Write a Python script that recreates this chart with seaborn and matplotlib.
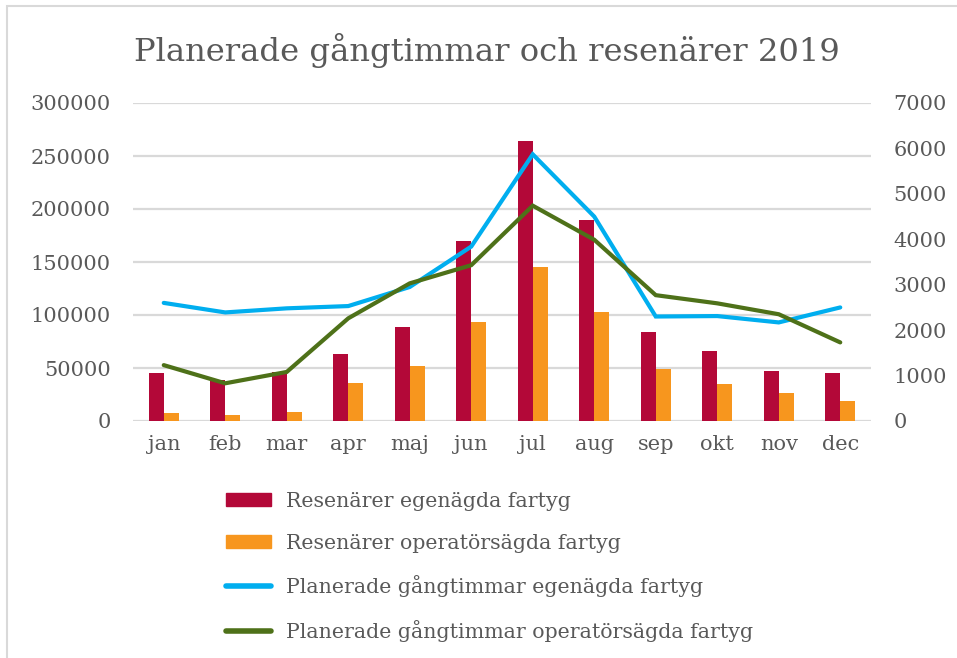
import numpy as np
import pandas as pd
import seaborn as sns
from matplotlib import pyplot as plt
from matplotlib.patches import Rectangle

months = ["jan", "feb", "mar", "apr", "maj", "jun", "jul", "aug", "sep", "okt", "nov", "dec"]
resenarer_egen = [45000, 39000, 46000, 63000, 88500, 170000, 264000, 189500, 84000, 66500, 47500, 45500]
resenarer_operator = [8000, 5500, 8500, 35500, 52000, 93500, 145500, 102500, 49000, 35000, 26500, 18500]
timmar_egen = [2600, 2390, 2480, 2530, 2950, 3840, 5870, 4500, 2300, 2310, 2170, 2500]
timmar_operator = [1230, 830, 1080, 2260, 3030, 3430, 4740, 3990, 2770, 2590, 2350, 1730]

labels = ["Resenärer egenägda fartyg", "Resenärer operatörsägda fartyg",
          "Planerade gångtimmar egenägda fartyg", "Planerade gångtimmar operatörsägda fartyg"]
colors = ["#B30838", "#F7961E", "#00AEEF", "#4E7119"]
text_color = "#595959"
grid_color = "#D9D9D9"


def build_bars():
    df = pd.DataFrame({
        "month": months * 2,
        "resenarer": resenarer_egen + resenarer_operator,
        "serie": [labels[0]] * 12 + [labels[1]] * 12,
    })
    return df


def build_lines():
    df = pd.DataFrame({
        "pos": list(range(len(months))) * 2,
        "timmar": timmar_egen + timmar_operator,
        "serie": [labels[2]] * 12 + [labels[3]] * 12,
    })
    return df


def plot_chart(file_name):
    plt.rcParams["font.family"] = ["DejaVu Serif"]
    fig = plt.figure(figsize=(9.57, 6.58), dpi=100)
    ax = fig.add_axes([133 / 957, 1 - 421 / 658, (871 - 133) / 957, (421 - 103) / 658])

    sns.barplot(data=build_bars(), x="month", y="resenarer", hue="serie", order=months,
                palette=colors[:2], width=0.48, ax=ax, legend=False, saturation=1)
    ax.set_ylim(0, 300000)
    ax.set_xlim(-0.5, 11.5)
    ax.set_yticks(np.arange(0, 300001, 50000))
    ax.yaxis.grid(True, color=grid_color, linewidth=1.6)
    ax.set_axisbelow(True)
    ax.set_xlabel("")
    ax.set_ylabel("")
    for s in ax.spines.values():
        s.set_visible(False)
    ax.tick_params(axis="y", length=0, pad=16, labelsize=15, labelcolor=text_color)
    ax.tick_params(axis="x", length=0, pad=10, labelsize=15, labelcolor=text_color)

    ax2 = ax.twinx()
    sns.lineplot(data=build_lines(), x="pos", y="timmar", hue="serie", palette=colors[2:],
                 linewidth=3, ax=ax2, legend=False)
    for line in ax2.lines:
        line.set_solid_capstyle("round")
        line.set_solid_joinstyle("miter")
    ax2.set_ylim(0, 7000)
    ax2.set_xlim(-0.5, 11.5)
    ax2.set_yticks(np.arange(0, 7001, 1000))
    ax2.set_ylabel("")
    for s in ax2.spines.values():
        s.set_visible(False)
    ax2.tick_params(axis="y", length=0, pad=16, labelsize=15, labelcolor=text_color)

    fig.suptitle("Planerade gångtimmar och resenärer 2019", x=487 / 957, y=1 - 50 / 658,
                 va="center", fontsize=23.2, color=text_color)

    handles = [Rectangle((0, 0), 1, 1, color=colors[0]), Rectangle((0, 0), 1, 1, color=colors[1]),
               plt.Line2D([], [], color=colors[2], lw=4, solid_capstyle="round"),
               plt.Line2D([], [], color=colors[3], lw=4, solid_capstyle="round")]
    fig.legend(handles, labels, loc="center left", bbox_to_anchor=(226 / 957, 1 - 567 / 658),
               frameon=False, fontsize=14.8, labelcolor=text_color, handlelength=2.2,
               handleheight=0.6, handletextpad=0.7, labelspacing=1.1, borderpad=0,
               borderaxespad=0)

    fig.patches.append(Rectangle((7 / 957, -0.1), 1.2, 1 - 6 / 658 + 0.1, transform=fig.transFigure,
                                 fill=False, edgecolor=grid_color, linewidth=1.5))
    plt.savefig(file_name, dpi=100)


def main():
    plot_chart("out.png")


if __name__ == "__main__":
    main()
